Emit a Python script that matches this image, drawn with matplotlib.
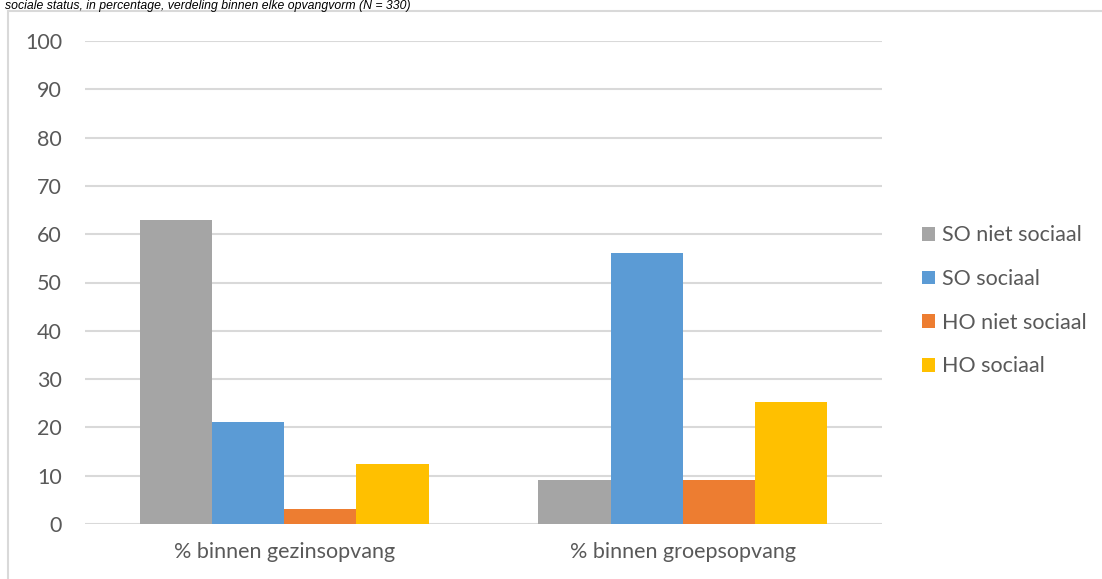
import matplotlib
matplotlib.use("Agg")
import matplotlib.pyplot as plt
import numpy as np
from matplotlib.patches import Rectangle, Patch

categories = ["% binnen gezinsopvang", "% binnen groepsopvang"]
series_names = ["SO niet sociaal", "SO sociaal", "HO niet sociaal", "HO sociaal"]
so_niet_sociaal = [62.9, 9.1]
so_sociaal = [21.1, 56.2]
ho_niet_sociaal = [3.1, 9.1]
ho_sociaal = [12.4, 25.3]
colors = ["#A5A5A5", "#5B9BD5", "#ED7D31", "#FFC000"]
yticks = [0, 10, 20, 30, 40, 50, 60, 70, 80, 90, 100]
title_text = "sociale status, in percentage, verdeling binnen elke opvangvorm (N = 330)"

plt.rcParams['font.family'] = ['Lato', 'DejaVu Sans']

fig = plt.figure(figsize=(11.02, 5.79), dpi=100)
fig.patch.set_facecolor("white")

# chart frame
fig.patches.append(Rectangle((8/1102, -0.05), 1.2, 1 - 11/579 + 0.05, transform=fig.transFigure,
                             fill=False, edgecolor="#D9D9D9", linewidth=1.5))

# title strip at top
fig.text(5/1102, 1 - 0/579, title_text, ha="left", va="top", fontsize=8.8,
         style="italic", color="#000000", family="Liberation Sans")

ax = fig.add_axes([85/1102, 1 - 524/579, 797/1102, 483/579])
data = [so_niet_sociaal, so_sociaal, ho_niet_sociaal, ho_sociaal]
x = np.arange(len(categories))
w = 0.181
for i, (vals, c) in enumerate(zip(data, colors)):
    ax.bar(x + (i - 1.5) * w, vals, width=w, color=c, zorder=3, linewidth=0)

ax.set_xlim(-0.5, 1.5)
ax.set_ylim(0, 100)
ax.set_yticks(yticks)
ax.set_yticklabels([str(t) for t in yticks])
ax.set_xticks(x)
ax.set_xticklabels(categories)
ax.grid(axis="y", color="#D9D9D9", linewidth=1.5, zorder=0)
for s in ax.spines.values():
    s.set_visible(False)
ax.tick_params(axis="both", length=0, labelsize=15.5, colors="#595959")
ax.tick_params(axis="y", pad=16.5)
ax.tick_params(axis="x", pad=13)

handles = [Patch(facecolor=c, edgecolor="none") for c in colors]
leg = fig.legend(handles, series_names, loc="upper left",
                 bbox_to_anchor=(903/1102, 1 - 206/579), frameon=False,
                 fontsize=15.5, labelcolor="#595959", handlelength=0.6, handleheight=0.6,
                 handletextpad=0.3, labelspacing=1.1)

fig.savefig("out.png", dpi=100)
